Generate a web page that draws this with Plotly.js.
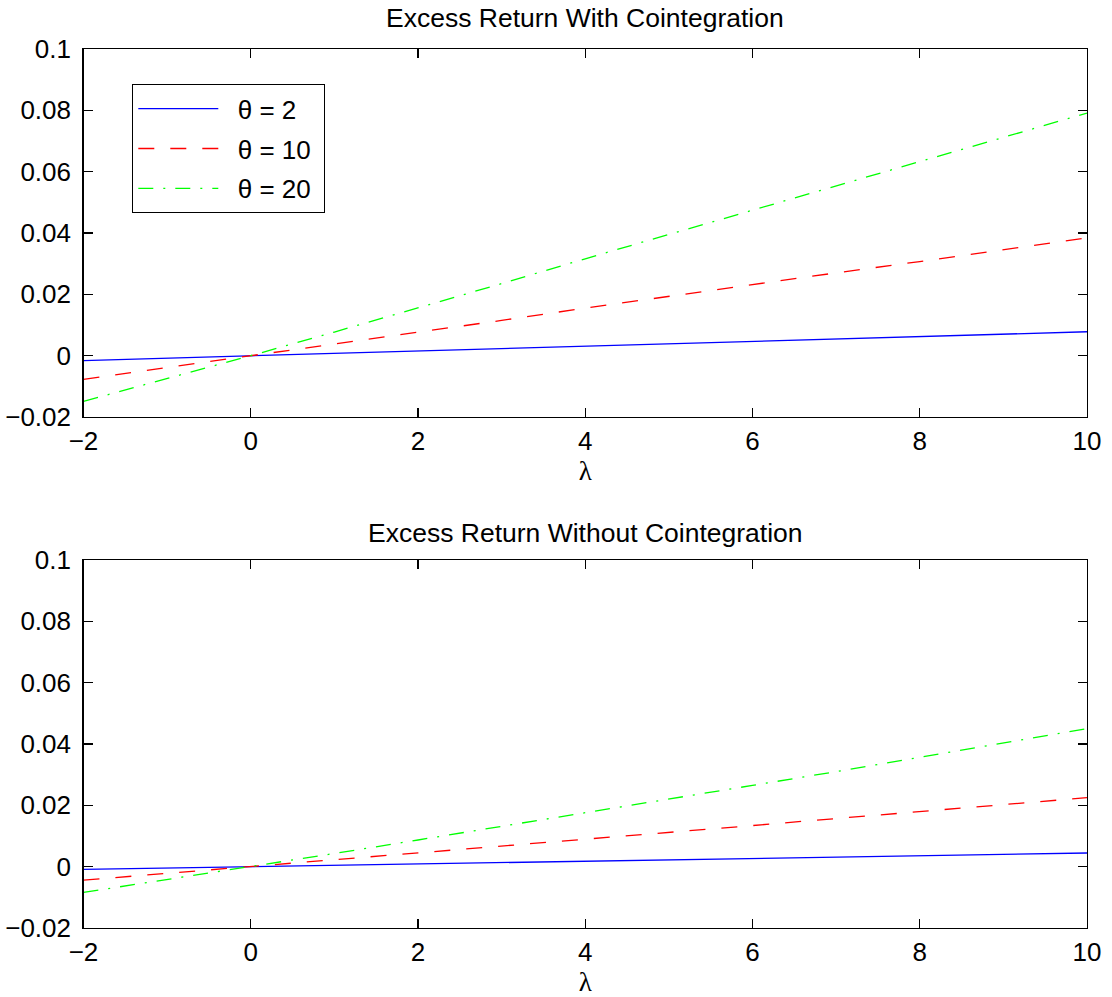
<!DOCTYPE html>
<html>
<head>
<meta charset="utf-8">
<script src="https://cdn.plot.ly/plotly-3.0.1.min.js"></script>
<style>html,body{margin:0;padding:0;background:#fff;}#chart{width:1112px;height:997px;}</style>
</head>
<body>
<div id="chart"></div>
<script>
// lambda grid
var lambda = [-2, -1, 0, 1, 2, 3, 4, 5, 6, 7, 8, 9, 10];

// Top panel: Excess Return With Cointegration
var withTheta2  = [-0.0016, -0.0008, 0, 0.0007, 0.0014, 0.0022, 0.0030, 0.0038, 0.0046, 0.0054, 0.0062, 0.0070, 0.0078];
var withTheta10 = [-0.0077, -0.0039, 0, 0.0038, 0.0076, 0.0115, 0.0155, 0.0194, 0.0232, 0.0270, 0.0307, 0.0345, 0.0384];
var withTheta20 = [-0.0149, -0.0075, 0, 0.0077, 0.0155, 0.0235, 0.0316, 0.0395, 0.0474, 0.0553, 0.0632, 0.0711, 0.0791];

// Bottom panel: Excess Return Without Cointegration
var withoutTheta2  = [-0.0009, -0.00045, 0, 0.00044, 0.00088, 0.00132, 0.00177, 0.00221, 0.00266, 0.00311, 0.00355, 0.0040, 0.00446];
var withoutTheta10 = [-0.0044, -0.0022, 0, 0.00222, 0.00445, 0.0067, 0.0089, 0.0112, 0.0134, 0.0157, 0.0179, 0.0202, 0.0225];
var withoutTheta20 = [-0.0084, -0.0042, 0, 0.0043, 0.0087, 0.0131, 0.0176, 0.0220, 0.0265, 0.0310, 0.0357, 0.0403, 0.0450];

var seriesNames = ['θ = 2', 'θ = 10', 'θ = 20'];
var titles = ['Excess Return With Cointegration', 'Excess Return Without Cointegration'];
var xTickVals = [-2, 0, 2, 4, 6, 8, 10];
var yTickVals = [-0.02, 0, 0.02, 0.04, 0.06, 0.08, 0.1];

var FONT = '"Liberation Sans", Arial, Helvetica, sans-serif';
var SERIF = '"Liberation Serif", "Times New Roman", serif';
var styles = [
  {color: '#0000ff', dash: 'solid'},
  {color: '#ff0000', dash: '16px,16px'},
  {color: '#00ff00', dash: '15px,10px,2px,10px'}
];

var topData = [withTheta2, withTheta10, withTheta20];
var botData = [withoutTheta2, withoutTheta10, withoutTheta20];
var traces = [];
topData.forEach(function (ys, i) {
  traces.push({x: lambda, y: ys, type: 'scatter', mode: 'lines',
    name: '\u00a0\u00a0' + seriesNames[i] + '\u00a0',
    legendgroup: 'g' + i, xaxis: 'x', yaxis: 'y',
    line: {color: styles[i].color, dash: styles[i].dash, width: 1.3}});
});
botData.forEach(function (ys, i) {
  traces.push({x: lambda, y: ys, type: 'scatter', mode: 'lines', name: seriesNames[i],
    showlegend: false, xaxis: 'x2', yaxis: 'y2',
    line: {color: styles[i].color, dash: styles[i].dash, width: 1.3}});
});

function xAxis(anchor) {
  return {
    domain: [83.5 / 1112, 1087 / 1112], anchor: anchor, range: [-2, 10],
    tickvals: xTickVals, ticks: 'inside', ticklen: 9, tickwidth: 1.2, tickcolor: '#000',
    showline: true, linecolor: '#000', linewidth: 1.3, mirror: 'allticks',
    showgrid: false, zeroline: false,
    tickfont: {family: FONT, size: 26, color: '#000'},
    title: {text: 'λ', font: {family: SERIF, size: 27, color: '#000'}, standoff: 2}
  };
}
function yAxis(anchor, dom) {
  return {
    domain: dom, anchor: anchor, range: [-0.02, 0.1],
    tickvals: yTickVals, ticks: 'inside', ticklen: 9, tickwidth: 1.2, tickcolor: '#000',
    showline: true, linecolor: '#000', linewidth: 1.3, mirror: 'allticks',
    showgrid: false, zeroline: false, ticklabelstandoff: 6,
    tickfont: {family: FONT, size: 26, color: '#000'}
  };
}

var layout = {
  width: 1112, height: 997,
  margin: {l: 0, r: 0, t: 0, b: 0},
  paper_bgcolor: '#fff', plot_bgcolor: '#fff',
  font: {family: FONT, color: '#000'},
  xaxis: xAxis('y'),
  yaxis: yAxis('x', [1 - 417 / 997, 1 - 49 / 997]),
  xaxis2: xAxis('y2'),
  yaxis2: yAxis('x2', [1 - 928 / 997, 1 - 560 / 997]),
  showlegend: true,
  legend: {
    x: 132 / 1112, y: 1 - 84 / 997, xanchor: 'left', yanchor: 'top',
    bgcolor: '#fff', bordercolor: '#000', borderwidth: 1.3,
    font: {family: FONT, size: 26, color: '#000'},
    itemwidth: 80, tracegroupgap: 3
  },
  annotations: [
    {text: titles[0], xref: 'paper', yref: 'paper', x: 585.25 / 1112, y: 1 - 18 / 997,
     xanchor: 'center', yanchor: 'middle', showarrow: false, font: {family: FONT, size: 26.5, color: '#000'}},
    {text: titles[1], xref: 'paper', yref: 'paper', x: 585.25 / 1112, y: 1 - 533 / 997,
     xanchor: 'center', yanchor: 'middle', showarrow: false, font: {family: FONT, size: 26.5, color: '#000'}}
  ]
};

Plotly.newPlot('chart', traces, layout, {staticPlot: true, displayModeBar: false});
</script>
</body>
</html>
